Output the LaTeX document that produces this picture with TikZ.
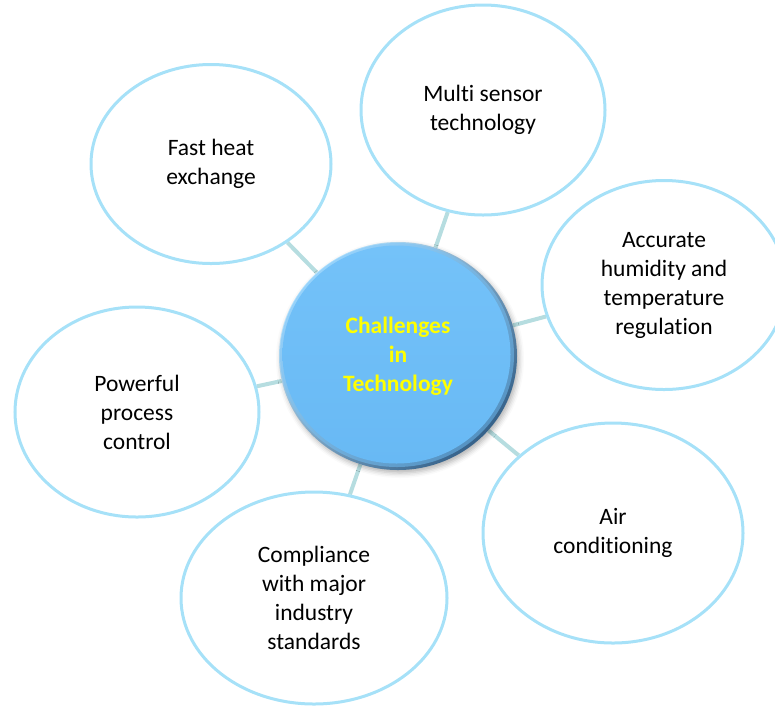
\documentclass[tikz,border=0pt]{standalone}
\usepackage{fontspec}
\setmainfont{Carlito}[RawFeature={-liga;-clig;-dlig;-calt}]
\usepackage{xcolor}
\usepackage{tikz}
\usetikzlibrary{shapes.geometric,backgrounds,shadows.blur}
\definecolor{ringblue}{HTML}{A6E1F8}
\definecolor{linkteal}{HTML}{B6DDE0}
\definecolor{hubtop}{HTML}{74C2F9}
\definecolor{hubbottom}{HTML}{68B9F4}
\definecolor{hublight}{HTML}{BCE6FF}
\definecolor{hubdark}{HTML}{36628A}
\definecolor{hubtext}{HTML}{FFFF00}

\begin{document}
\begin{tikzpicture}[x=1pt, y=-1pt,
  topic/.style={ellipse, draw=ringblue, line width=3pt, fill=white, inner sep=0pt, align=center, font=\fontsize{23.5}{29}\selectfont},
  hub/.style={ellipse, minimum width=238pt, minimum height=228pt, inner sep=0pt, align=center, text=hubtext, font=\bfseries\fontsize{23.5}{29}\selectfont,
    top color=hublight, bottom color=hubdark, shading angle=45,
    blur shadow={shadow xshift=2pt, shadow yshift=-3pt, shadow blur radius=5pt, shadow opacity=30},
    path picture={
      \fill[hubtop, opacity=0.5] ([shift={(-1pt,1pt)}]path picture bounding box.center) ellipse [x radius=117pt, y radius=112pt];
      \shade[top color=hubtop, bottom color=hubbottom] ([shift={(-1.5pt,1.5pt)}]path picture bounding box.center) ellipse [x radius=114pt, y radius=109pt];
    }},
  link/.style={draw=linkteal, line width=4pt}
]
  \useasboundingbox (0,0) rectangle (775,705);

  \node[hub] (hub) at (398,356) {Challenges\\in\\Technology};

  \node[topic, minimum width=240pt, minimum height=199pt] (heat) at (211,164) {Fast heat\\exchange};
  \node[topic, minimum width=244pt, minimum height=210pt] (sensor) at (483,110) {Multi sensor\\technology};
  \node[topic, minimum width=244pt, minimum height=209pt] (humid) at (664,285) {Accurate\\humidity and\\temperature\\regulation};
  \node[topic, minimum width=244pt, minimum height=210pt] (control) at (137,412) {Powerful\\process\\control};
  \node[topic, minimum width=266pt, minimum height=212pt] (comply) at (314,598) {Compliance\\with major\\industry\\standards};
  \node[topic, minimum width=260pt, minimum height=220pt] (air) at (613,533) {Air\\conditioning};

  % spokes sit behind the bubbles
  \begin{scope}[on background layer]
    \foreach \t in {heat,sensor,humid,control,comply,air}
      \draw[link] (hub) -- (\t);
  \end{scope}
\end{tikzpicture}
\end{document}
